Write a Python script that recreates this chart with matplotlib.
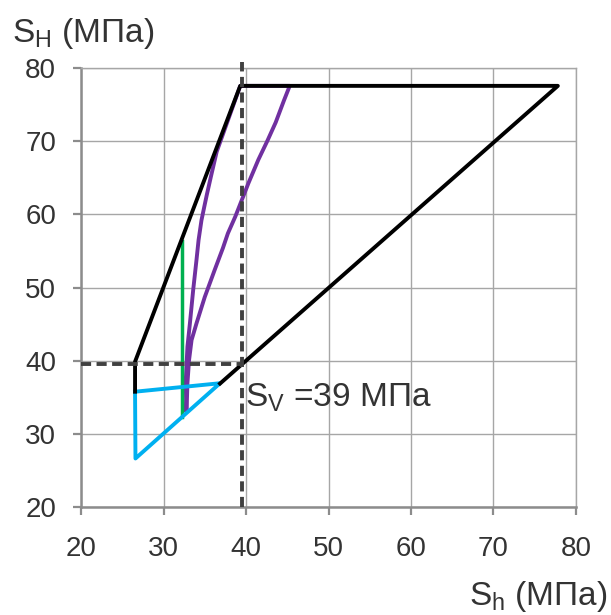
import matplotlib
matplotlib.use("Agg")
import matplotlib.pyplot as plt

plt.rcParams['font.family'] = ['Liberation Sans', 'DejaVu Sans']
plt.rcParams['mathtext.fontset'] = 'custom'
plt.rcParams['mathtext.rm'] = 'Liberation Sans'
plt.rcParams['mathtext.it'] = 'Liberation Sans'

# Data
black_x = [26.55, 26.55, 39.3, 77.8, 36.85]
black_y = [35.74, 39.85, 77.6, 77.6, 36.85]

blue_x = [26.55, 36.85, 26.6, 26.55]
blue_y = [35.74, 36.9, 26.6, 35.74]

green_x = [32.28, 32.28]
green_y = [32.3, 56.4]

purple_x = [32.75, 32.7, 32.9, 33.2, 33.6, 34.0, 34.25, 34.6, 34.95, 35.25, 35.75, 36.45, 39.3,
            45.3, 44.6, 43.6, 42.6, 41.5, 40.3, 39.5, 38.7, 37.8, 37.2, 36.2, 35.0, 34.0, 33.4, 33.1, 32.9, 32.8]
purple_y = [33.2, 37.3, 41.9, 45.1, 49.7, 53.8, 56.5, 59.2, 61.1, 62.7, 65.2, 68.6, 77.6,
            77.6, 75.6, 72.6, 70.1, 67.5, 64.3, 62.0, 59.7, 57.4, 55.4, 52.4, 48.7, 45.1, 42.8, 40.1, 36.9, 33.2]

sv_value = 39.5
ticks = [20, 30, 40, 50, 60, 70, 80]

fig = plt.figure(figsize=(6.11, 6.15), dpi=100)
ax = fig.add_axes([0.1326, 0.1761, 0.8101, 0.7128])
ax.set_xlim(20, 80)
ax.set_ylim(20, 80)
ax.set_xticks(ticks)
ax.set_yticks(ticks)
ax.grid(True, color='#A6A6A6', lw=1.0)
ax.set_axisbelow(True)

for s in ['top', 'right']:
    ax.spines[s].set_color('#A6A6A6')
    ax.spines[s].set_linewidth(1.0)
for s in ['left', 'bottom']:
    ax.spines[s].set_color('#8C8C8C')
    ax.spines[s].set_linewidth(1.8)

ax.tick_params(direction='out', length=6, width=1.6, color='#8C8C8C',
               labelcolor='#333333', labelsize=20)
ax.tick_params(axis='x', pad=15)
ax.tick_params(axis='y', pad=12)

ax.plot(purple_x, purple_y, color='#7030A0', lw=2.8, zorder=3, solid_joinstyle='round')
ax.plot(green_x, green_y, color='#00B050', lw=2.5, zorder=3)
ax.plot(blue_x, blue_y, color='#00B0F0', lw=2.8, zorder=3)
ax.plot(black_x, black_y, color='black', lw=2.8, zorder=4, solid_joinstyle='round')

ax.plot([sv_value, sv_value], [20, 80.8], color='#404040', lw=2.8,
        linestyle=(0, (2.6, 1.4)), zorder=5, clip_on=False)
ax.plot([20, sv_value], [sv_value, sv_value], color='#404040', lw=2.8,
        linestyle=(0, (2.6, 1.4)), zorder=5)

ax.text(39.9, 33.7, r'$\mathregular{S_V}$ =39 МПа', fontsize=24, color='#333333',
        ha='left', va='baseline', zorder=6)

fig.text(12/611, 1-42/615, r'$\mathregular{S_H}$ (МПа)', fontsize=24, color='#333333',
         ha='left', va='baseline')
fig.text(607/611, 1-605/615, r'$\mathregular{S_h}$ (МПа)', fontsize=24, color='#333333',
         ha='right', va='baseline')

fig.savefig('out.png', dpi=100)
